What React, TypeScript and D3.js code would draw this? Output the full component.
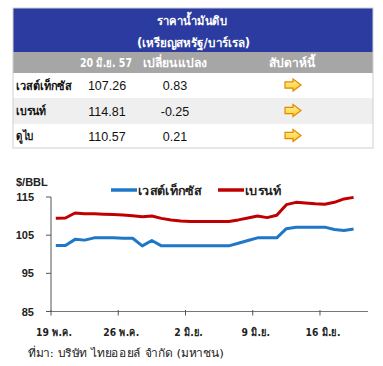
import * as d3 from "d3";

// table
const title1 = "ราคาน้ำมันดิบ";
const title2 = "(เหรียญสหรัฐ/บาร์เรล)";
const headers = ["20 มิ.ย. 57", "เปลี่ยนแปลง", "สัปดาห์นี้"];
const crudeNames = ["เวสต์เท็กซัส", "เบรนท์", "ดูไบ"];
const prices = ["107.26", "114.81", "110.57"];
const changes = ["0.83", "-0.25", "0.21"];

// chart
const seriesNames = ["เวสต์เท็กซัส", "เบรนท์"];
const tickLabels = ["19 พ.ค.", "26 พ.ค.", "2 มิ.ย.", "9 มิ.ย.", "16 มิ.ย."];
const yTicks = [85, 95, 105, 115];
const nDays = 33;
const wti = [
  102.3, 102.3, 103.9, 103.7, 104.3, 104.3, 104.3, 104.2, 104.2, 102.2, 103.6,
  102.2, 102.2, 102.2, 102.2, 102.2, 102.2, 102.2, 102.2, 102.9, 103.6, 104.3,
  104.3, 104.3, 106.7, 107.1, 107.1, 107.1, 107.1, 106.5, 106.2, 106.6,
];
const brent = [
  109.4, 109.5, 110.8, 110.6, 110.6, 110.5, 110.4, 110.3, 110.1, 109.8, 110.0,
  109.4, 109.0, 108.7, 108.6, 108.6, 108.6, 108.6, 108.6, 109.0, 109.5, 110.0,
  109.6, 110.2, 113.0, 113.6, 113.4, 113.2, 113.1, 113.6, 114.5, 114.9,
];
const source = "ที่มา: บริษัท ไทยออยล์ จำกัด (มหาชน)";

const thai = "Tahoma, 'DejaVu Sans', 'Noto Sans', sans-serif";
const arial = "Arial, 'Liberation Sans', sans-serif";

// thai text squeezed to the width it has in the original
const T = ({ x, y, w, anchor = "start", fill = "#222", size = 12, bold = true, children }: any) => (
  <text
    x={x}
    y={y}
    textAnchor={anchor}
    fill={fill}
    fontFamily={thai}
    fontSize={size}
    fontWeight={bold ? "bold" : "normal"}
    textLength={w}
    lengthAdjust="spacingAndGlyphs"
  >
    {children}
  </text>
);

const Arrow = ({ cx, cy }: { cx: number; cy: number }) => (
  <path
    transform={`translate(${cx},${cy})`}
    d="M-8,-3.2 L0,-3.2 L0,-6 L8,0 L0,6 L0,3.2 L-8,3.2 Z"
    fill="url(#arrowGrad)"
    stroke="#e08a00"
    strokeWidth={1.2}
  />
);

const App = () => {
  const x = d3.scaleLinear().domain([0, nDays]).range([51, 368]);
  const y = d3.scaleLinear().domain([85, 115]).range([311.5, 197]);
  const line = d3
    .line<number>()
    .x((_, i) => x(i + 0.5))
    .y((d) => y(d));

  const rowTop = [73, 98, 124];
  const rowH = [25, 26, 24];
  const colX = [106, 175, 292];
  const headerW = [52, 64, 46];
  const nameW = [55, 30, 18];
  const legendW = [63, 36];

  return (
    <svg
      width={383}
      height={366}
      style={{ position: "absolute", left: 0, top: 0, background: "#fff" }}
    >
      <defs>
        <linearGradient id="arrowGrad" x1="0" y1="0" x2="0" y2="1">
          <stop offset="0" stopColor="#fff6a8" />
          <stop offset="1" stopColor="#ffc820" />
        </linearGradient>
      </defs>

      {/* table */}
      <rect x={13} y={8} width={360} height={44} fill="#2b3b9f" />
      <T x={192} y={25} w={70} anchor="middle" fill="#fff">{title1}</T>
      <T x={193.5} y={47} w={113} anchor="middle" fill="#fff">{title2}</T>
      <rect x={13} y={52} width={360} height={21} fill="#a6a6a6" />
      {headers.map((h, i) => (
        <T key={h} x={colX[i]} y={67} w={headerW[i]} anchor="middle" fill="#fff">
          {h}
        </T>
      ))}
      {crudeNames.map((n, i) => (
        <g key={n}>
          <rect x={13} y={rowTop[i]} width={360} height={rowH[i]} fill={i === 1 ? "#efefef" : "#fff"} />
          <T x={16} y={rowTop[i] + rowH[i] / 2 + 4} w={nameW[i]} fill="#111">
            {n}
          </T>
          <text x={colX[0] + 1} y={rowTop[i] + rowH[i] / 2 + 4.5} textAnchor="middle" fill="#111" fontFamily={arial} fontSize={12.5}>
            {prices[i]}
          </text>
          <text x={colX[1]} y={rowTop[i] + rowH[i] / 2 + 4.5} textAnchor="middle" fill="#111" fontFamily={arial} fontSize={12.5}>
            {changes[i]}
          </text>
          <Arrow cx={293} cy={rowTop[i] + rowH[i] / 2 - 0.5} />
        </g>
      ))}
      <rect x={13} y={8} width={360} height={140} fill="none" stroke="#cfcfcf" strokeWidth={1} />

      {/* chart */}
      <text x={16} y={186} fill="#222" fontFamily={arial} fontSize={11} fontWeight="bold">
        $/BBL
      </text>
      {seriesNames.map((s, i) => {
        const lx = i === 0 ? 111 : 218;
        return (
          <g key={s}>
            <line x1={lx} x2={lx + 26} y1={190} y2={190} stroke={i === 0 ? "#1f77c8" : "#c00000"} strokeWidth={3.5} />
            <T x={lx + 27} y={194.5} w={legendW[i]}>
              {s}
            </T>
          </g>
        );
      })}
      <line x1={51} x2={51} y1={y(115)} y2={y(85)} stroke="#555" strokeWidth={1} />
      <line x1={51} x2={368} y1={y(85)} y2={y(85)} stroke="#777" strokeWidth={1.2} />
      {yTicks.map((t) => (
        <g key={t}>
          <line x1={46} x2={51} y1={y(t)} y2={y(t)} stroke="#555" />
          <text x={34} y={y(t) + 4} textAnchor="end" fill="#222" fontFamily={arial} fontSize={11} fontWeight="bold">
            {t}
          </text>
        </g>
      ))}
      {tickLabels.map((t, i) => (
        <g key={t}>
          <line x1={x(i * 7)} x2={x(i * 7)} y1={y(85) - 1.5} y2={y(85) + 4} stroke="#555" />
          <text
            transform={`translate(${x(i * 7) + 3},335.5) scale(0.84,1)`}
            textAnchor="middle"
            fill="#222"
            fontFamily={thai}
            fontSize={11}
            fontWeight="bold"
          >
            {t}
          </text>
        </g>
      ))}
      <path d={line(brent) ?? ""} fill="none" stroke="#c00000" strokeWidth={3} strokeLinejoin="round" />
      <path d={line(wti) ?? ""} fill="none" stroke="#1f77c8" strokeWidth={3} strokeLinejoin="round" />
      <T x={28} y={357} w={196} size={11} bold={false}>
        {source}
      </T>
    </svg>
  );
};

export default App;
